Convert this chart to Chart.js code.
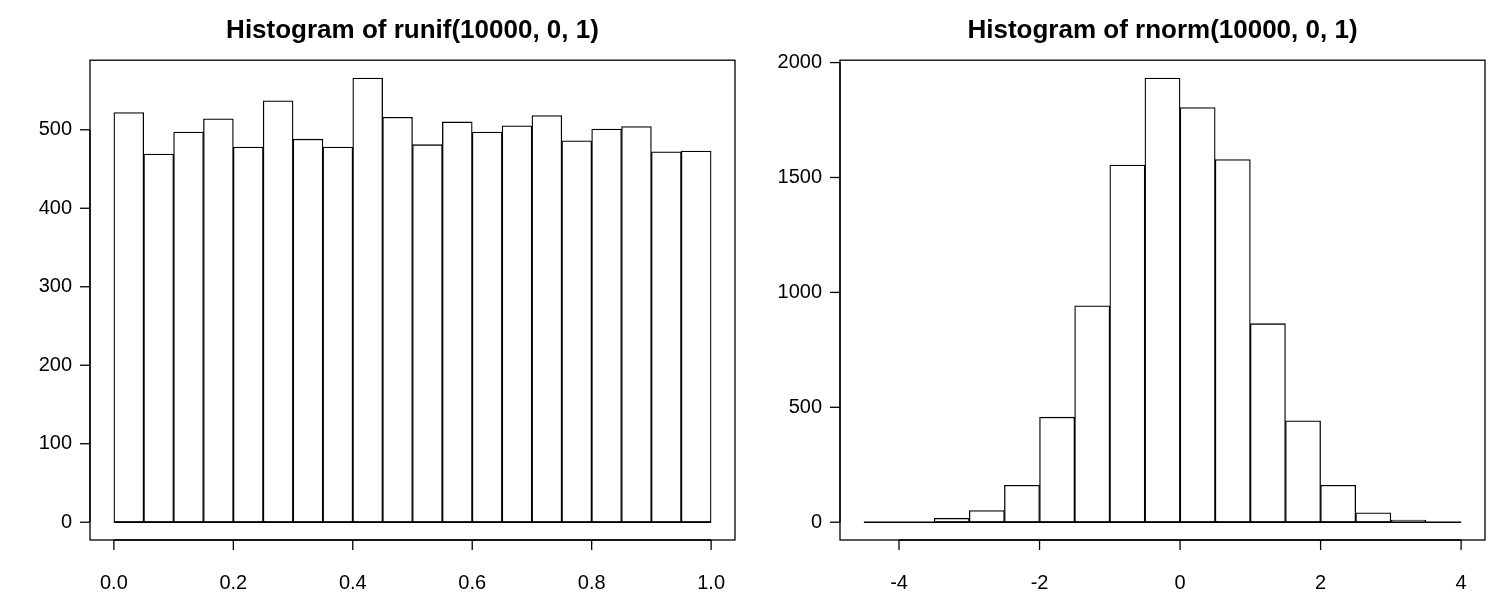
<!DOCTYPE html>
<html>
<head>
<meta charset="utf-8">
<script src="https://cdn.jsdelivr.net/npm/chart.js@4"></script>
<style>
  body { margin: 0; background: #fff; }
  #wrap { display: flex; width: 1500px; height: 600px; }
  .box { width: 750px; height: 600px; position: relative; }
</style>
</head>
<body>
<div id="wrap">
  <div class="box"><canvas id="unif"></canvas></div>
  <div class="box"><canvas id="norm"></canvas></div>
</div>
<script>
// runif histogram: bins of 0.05 from 0 to 1
const unifBreaks = [0, 0.05, 0.1, 0.15, 0.2, 0.25, 0.3, 0.35, 0.4, 0.45, 0.5, 0.55, 0.6, 0.65, 0.7, 0.75, 0.8, 0.85, 0.9, 0.95, 1]
const unifCounts = [522, 469, 497, 514, 478, 537, 488, 478, 566, 516, 481, 510, 497, 505, 518, 486, 501, 504, 472, 473]
const unifXTicks = [0, 0.2, 0.4, 0.6, 0.8, 1]
const unifXLabels = ['0.0', '0.2', '0.4', '0.6', '0.8', '1.0']
const unifYTicks = [0, 100, 200, 300, 400, 500]

// rnorm histogram: bins of 0.5 from -4.5 to 4
const normBreaks = [-4.5, -4, -3.5, -3, -2.5, -2, -1.5, -1, -0.5, 0, 0.5, 1, 1.5, 2, 2.5, 3, 3.5, 4]
const normCounts = [0, 1, 17, 51, 161, 457, 942, 1554, 1933, 1804, 1578, 864, 441, 161, 41, 9, 1]
const normXTicks = [-4, -2, 0, 2, 4]
const normXLabels = ['-4', '-2', '0', '2', '4']
const normYTicks = [0, 500, 1000, 1500, 2000]

const FONT = '"Liberation Sans", Arial, sans-serif'

// R base graphics look: box around the plot, outward ticks, axis line between first and last tick
const rAxes = {
  id: 'rAxes',
  afterDraw(chart, args, opts) {
    const ctx = chart.ctx, a = chart.chartArea
    const xs = chart.scales.x, ys = chart.scales.y
    ctx.save()
    ctx.strokeStyle = '#000'
    ctx.lineWidth = 1.3
    ctx.strokeRect(a.left, a.top, a.right - a.left, a.bottom - a.top)
    // baseline under the bars (empty bins show as a flat line in R)
    const zy = ys.getPixelForValue(0)
    ctx.beginPath()
    ctx.moveTo(xs.getPixelForValue(opts.breaks[0]), zy)
    ctx.lineTo(xs.getPixelForValue(opts.breaks[opts.breaks.length - 1]), zy)
    ctx.stroke()
    ctx.fillStyle = '#000'
    ctx.font = '20px ' + FONT
    // x axis
    const x0 = xs.getPixelForValue(opts.xTicks[0]), x1 = xs.getPixelForValue(opts.xTicks[opts.xTicks.length - 1])
    ctx.beginPath(); ctx.moveTo(x0, a.bottom); ctx.lineTo(x1, a.bottom); ctx.stroke()
    ctx.textAlign = 'center'; ctx.textBaseline = 'middle'
    opts.xTicks.forEach((v, i) => {
      const p = xs.getPixelForValue(v)
      ctx.beginPath(); ctx.moveTo(p, a.bottom); ctx.lineTo(p, a.bottom + 10); ctx.stroke()
      ctx.fillText(opts.xLabels[i], p, a.bottom + 43)
    })
    // y axis
    const y0 = ys.getPixelForValue(opts.yTicks[0]), y1 = ys.getPixelForValue(opts.yTicks[opts.yTicks.length - 1])
    ctx.beginPath(); ctx.moveTo(a.left, y0); ctx.lineTo(a.left, y1); ctx.stroke()
    ctx.textAlign = 'right'
    opts.yTicks.forEach(v => {
      const p = ys.getPixelForValue(v)
      ctx.beginPath(); ctx.moveTo(a.left, p); ctx.lineTo(a.left - 10, p); ctx.stroke()
      ctx.fillText(String(v), a.left - 18, p)
    })
    ctx.restore()
  }
}

function histogram(canvasId, title, breaks, counts, xTicks, xLabels, yTicks) {
  const data = counts.map((c, i) => ({ x: (breaks[i] + breaks[i + 1]) / 2, y: c }))
  const xr = breaks[breaks.length - 1] - breaks[0]
  const ymax = Math.max(...counts)
  new Chart(document.getElementById(canvasId), {
    type: 'bar',
    data: {
      datasets: [{
        data: data,
        backgroundColor: '#fff',
        borderColor: '#000',
        borderWidth: 1.3,
        borderSkipped: false,
        barPercentage: 1,
        categoryPercentage: 1
      }]
    },
    options: {
      responsive: true,
      maintainAspectRatio: false,
      animation: false,
      layout: { padding: { left: 90, right: 15, top: 0, bottom: 60 } },
      scales: {
        x: { type: 'linear', display: false, offset: false, min: breaks[0] - 0.04 * xr, max: breaks[breaks.length - 1] + 0.04 * xr },
        y: { display: false, min: -0.04 * ymax, max: 1.04 * ymax }
      },
      plugins: {
        legend: { display: false },
        tooltip: { enabled: false },
        title: {
          display: true,
          text: title,
          color: '#000',
          font: { family: FONT, size: 26, weight: 'bold' },
          padding: { top: 15, bottom: 14 }
        },
        rAxes: { breaks: breaks, xTicks: xTicks, xLabels: xLabels, yTicks: yTicks }
      }
    },
    plugins: [rAxes]
  })
}

histogram('unif', 'Histogram of runif(10000, 0, 1)', unifBreaks, unifCounts, unifXTicks, unifXLabels, unifYTicks)
histogram('norm', 'Histogram of rnorm(10000, 0, 1)', normBreaks, normCounts, normXTicks, normXLabels, normYTicks)
</script>
</body>
</html>
